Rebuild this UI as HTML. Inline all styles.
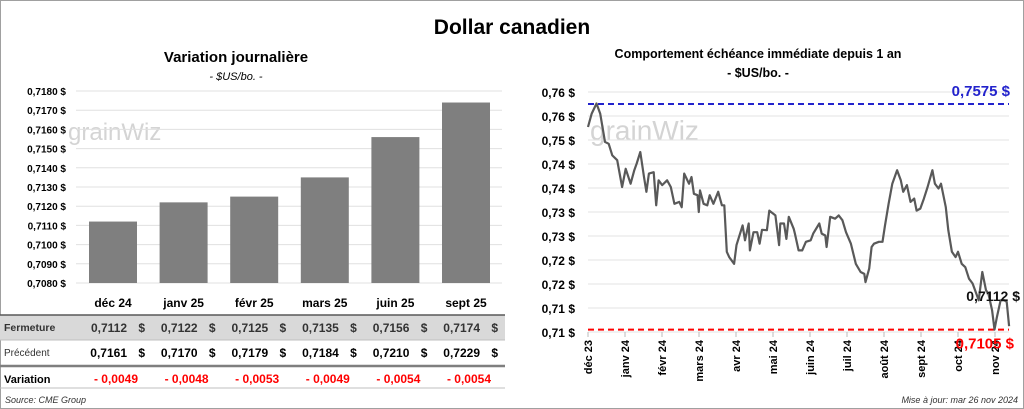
<!DOCTYPE html>
<html><head><meta charset="utf-8"><style>
body{margin:0;background:#fff}
svg{display:block;font-family:"Liberation Sans",sans-serif}
</style></head><body>
<svg id="s" width="1024" height="409" viewBox="0 0 1024 409" xmlns="http://www.w3.org/2000/svg">
<rect x="0.5" y="0.5" width="1023" height="408" fill="#fff" stroke="#a0a0a0"/>
<text x="512" y="34" text-anchor="middle" font-size="21" font-weight="bold" fill="#000">Dollar canadien</text>
<text x="236" y="62" text-anchor="middle" font-size="15" font-weight="bold">Variation  journalière</text>
<text x="236" y="80" text-anchor="middle" font-size="11" font-style="italic">- $US/bo. -</text>
<text x="758" y="58" text-anchor="middle" font-size="12.5" font-weight="bold">Comportement échéance immédiate depuis 1 an</text>
<text x="758" y="77" text-anchor="middle" font-size="12.5" font-weight="bold">- $US/bo. -</text>
<g id="left"></g>
<g id="right"></g>
<g id="tbl"></g>
<text x="5" y="403" font-size="9" font-style="italic" fill="#333">Source: CME Group</text>
<text x="1018" y="403" text-anchor="end" font-size="9" font-style="italic" fill="#333">Mise à jour: mar 26 nov 2024</text>
</svg>
<script>
const NS="http://www.w3.org/2000/svg";
const contracts=["déc 24","janv 25","févr 25","mars 25","juin 25","sept 25"];
const closeVals=[0.7112,0.7122,0.7125,0.7135,0.7156,0.7174];
const prevVals=[0.7161,0.7170,0.7179,0.7184,0.7210,0.7229];
const changeVals=[-0.0049,-0.0048,-0.0053,-0.0049,-0.0054,-0.0054];
const barTicks=[0.708,0.709,0.710,0.711,0.712,0.713,0.714,0.715,0.716,0.717,0.718];
const monthLabels=["déc 23","janv 24","févr 24","mars 24","avr 24","mai 24","juin 24","juil 24","août 24","sept 24","oct 24","nov 24"];
const lineTicks=[0.710,0.715,0.720,0.725,0.730,0.735,0.740,0.745,0.750,0.755,0.760];
const days=[0,3,7,10,14,17,20,24,28,31,35,38,40,43,46,48,50,54,56,58,61,65,68,71,75,77,79,83,85,87,90,91,92,95,98,100,103,107,110,112,114,116,120,122,127,129,132,133,136,139,141,143,147,149,154,157,158,161,163,165,169,170,173,176,179,183,185,190,192,195,196,199,203,206,209,212,216,220,224,227,228,231,233,235,239,242,244,247,250,254,257,259,262,265,268,270,273,276,279,283,285,288,290,294,296,299,302,304,307,310,313,316,319,321,324,327,329,332,334,336,339,342,344,346];
const prices=[0.7527,0.7555,0.7576,0.7555,0.7496,0.7492,0.7468,0.7458,0.7402,0.7440,0.7409,0.7437,0.7451,0.7475,0.7423,0.7392,0.7430,0.7433,0.7364,0.7416,0.7406,0.7416,0.7402,0.7367,0.7371,0.7360,0.7430,0.7409,0.7423,0.7388,0.7385,0.7350,0.7395,0.7367,0.7364,0.7385,0.7367,0.7392,0.7364,0.7364,0.7267,0.7256,0.7242,0.7281,0.7322,0.7291,0.7326,0.7270,0.7308,0.7308,0.7284,0.7313,0.7312,0.7353,0.7343,0.7281,0.7326,0.7326,0.7294,0.7340,0.7315,0.7305,0.7270,0.7270,0.7288,0.7291,0.7305,0.7326,0.7305,0.7301,0.7277,0.7340,0.7336,0.7343,0.7333,0.7308,0.7284,0.7242,0.7225,0.7221,0.7204,0.7232,0.7277,0.7284,0.7288,0.7288,0.7322,0.7367,0.7409,0.7437,0.7416,0.7392,0.7406,0.7371,0.7378,0.7353,0.7357,0.7378,0.7402,0.7437,0.7409,0.7399,0.7409,0.7360,0.7312,0.7267,0.7256,0.7267,0.7242,0.7235,0.7211,0.7201,0.7180,0.7166,0.7225,0.7187,0.7180,0.7145,0.7105,0.7131,0.7166,0.7166,0.7163,0.7112];
const highVal=0.7575, lowVal=0.7105, lastVal=0.7112;

function el(t,a,p,txt){const e=document.createElementNS(NS,t);for(const k in a)e.setAttribute(k,a[k]);if(txt!==undefined)e.textContent=txt;p.appendChild(e);return e;}
const fmt4=v=>v.toFixed(4).replace('.',',');

// bar chart
const L=document.getElementById('left');
const by=v=>283-(v-0.708)/0.010*192;
const bx=i=>113+i*70.6;
el('text',{x:68,y:140,'font-size':24,fill:'#d4d4d4'},L,'grainWiz');
barTicks.forEach(t=>{
  const g=el('line',{x1:76,x2:502,y1:by(t),y2:by(t),stroke:'#e0e0e0'},L);
  
  
  const tx=el('text',{x:66,y:by(t)+4,'text-anchor':'end','font-size':10,'font-weight':'bold'},L,fmt4(t)+' $');
  
  
});
closeVals.forEach((v,i)=>{
  const r=el('rect',{x:bx(i)-24,y:by(v),width:48,height:283-by(v),fill:'#7f7f7f'},L);
  
  
});

// table
const T=document.getElementById('tbl');
el('rect',{x:0,y:315,width:505,height:25,fill:'#d9d9d9'},T);
el('line',{x1:0,x2:505,y1:315,y2:315,stroke:'#595959','stroke-width':1.5},T);
el('line',{x1:0,x2:505,y1:340,y2:340,stroke:'#bfbfbf'},T);
el('line',{x1:0,x2:505,y1:366,y2:366,stroke:'#7f7f7f','stroke-width':2.5},T);
el('line',{x1:0,x2:505,y1:388,y2:388,stroke:'#bfbfbf'},T);
el('text',{x:4,y:331,'font-size':10.5,'font-weight':'bold',fill:'#333'},T,'Fermeture');
el('text',{x:4,y:356,'font-size':10,fill:'#333'},T,'Précédent');
el('text',{x:4,y:383,'font-size':11,'font-weight':'bold'},T,'Variation');
contracts.forEach((c,i)=>{
  const cx=bx(i);
  const h=el('text',{x:cx,y:307,'text-anchor':'middle','font-size':12,'font-weight':'bold'},T,c);
  
  
  el('text',{x:cx+14,y:332,'text-anchor':'end','font-size':12,'font-weight':'bold',fill:'#333'},T,fmt4(closeVals[i]));
  el('text',{x:cx+32,y:332,'text-anchor':'end','font-size':12,'font-weight':'bold',fill:'#333'},T,'$');
  el('text',{x:cx+14,y:357,'text-anchor':'end','font-size':12,'font-weight':'bold'},T,fmt4(prevVals[i]));
  el('text',{x:cx+32,y:357,'text-anchor':'end','font-size':12,'font-weight':'bold'},T,'$');
  el('text',{x:cx+3,y:383,'text-anchor':'middle','font-size':12,'font-weight':'bold',fill:'#ff0000'},T,'- '+fmt4(Math.abs(changeVals[i])));
});

// line chart
const R=document.getElementById('right');
const X0=588,X1=1009, Y0=332,Y1=92;
const ly=v=>Y0-(v-0.710)/0.050*(Y0-Y1);
const lx=d=>X0+d/30.4*37;
el('text',{x:590,y:140,'font-size':28,fill:'#d4d4d4'},R,'grainWiz');
lineTicks.forEach(t=>{
  const g=el('line',{x1:X0,x2:X1,y1:ly(t),y2:ly(t),stroke:'#e3e3e3'},R);
  
  
  const tx=el('text',{x:575,y:ly(t)+5,'text-anchor':'end','font-size':12,'font-weight':'bold'},R,t.toFixed(2).replace('.',',')+' $');
  
  
});
monthLabels.forEach((m,i)=>{
  const x=lx(i*30.4);
  el('line',{x1:x,x2:x,y1:332,y2:337,stroke:'#bbb'},R);
  const tx=el('text',{x:0,y:0,'text-anchor':'end','font-size':11,'font-weight':'bold',transform:`translate(${x+4},340) rotate(-90)`},R,m);
  
  
});
const hl=el('line',{x1:X0,x2:X1,y1:ly(highVal),y2:ly(highVal),stroke:'#2222cc','stroke-width':2,'stroke-dasharray':'6,4'},R);


const lo=el('line',{x1:X0,x2:X1,y1:ly(lowVal),y2:ly(lowVal),stroke:'#ff0000','stroke-width':2,'stroke-dasharray':'6,4'},R);


const p=el('polyline',{points:days.map((d,i)=>lx(d).toFixed(1)+','+ly(prices[i]).toFixed(1)).join(' '),fill:'none',stroke:'#595959','stroke-width':2.2,'stroke-linejoin':'round'},R);


el('text',{x:1010,y:ly(highVal)-8,'text-anchor':'end','font-size':15,'font-weight':'bold',fill:'#2222cc'},R,fmt4(highVal)+' $');
el('text',{x:1020,y:ly(lastVal)-25,'text-anchor':'end','font-size':14,'font-weight':'bold',fill:'#111'},R,fmt4(lastVal)+' $');
el('text',{x:1014,y:ly(lowVal)+19,'text-anchor':'end','font-size':15,'font-weight':'bold',fill:'#ff0000'},R,fmt4(lowVal)+' $');
</script>
</body></html>
